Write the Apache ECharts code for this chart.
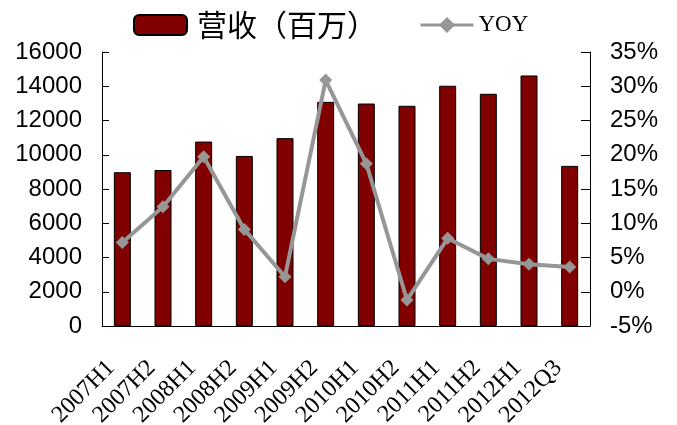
<!DOCTYPE html>
<html>
<head>
<meta charset="utf-8">
<script src="https://cdn.jsdelivr.net/npm/echarts@6/dist/echarts.min.js"></script>
<style>
  html, body { margin: 0; padding: 0; background: #ffffff; }
  #chart { width: 677px; height: 425px; }
</style>
</head>
<body>
<div id="chart"></div>
<script>
// Half-year periods (last one is a Q3 figure)
const periods = ['2007H1', '2007H2', '2008H1', '2008H2', '2009H1', '2009H2',
                 '2010H1', '2010H2', '2011H1', '2011H2', '2012H1', '2012Q3'];
// Revenue, millions
const revenue = [8980, 9110, 10770, 9930, 10970, 13090, 12990, 12860, 14030, 13560, 14630, 9350];
// Year-over-year growth, percent
const yoy = [7.2, 12.4, 19.7, 9.1, 2.2, 30.9, 18.7, -1.2, 7.8, 4.8, 4.0, 3.6];

const seriesNames = ['营收（百万）', 'YOY'];
const revenueRange = [0, 16000, 2000];
const yoyRange = [-5, 35, 5];

const chart = echarts.init(document.getElementById('chart'));

const axisText = { color: '#000', fontFamily: 'Liberation Sans, Arial, sans-serif', fontSize: 24 };

chart.setOption({
  animation: false,
  backgroundColor: '#ffffff',
  grid: { left: 102, right: 87, top: 52, bottom: 99, outerBoundsMode: 'none', containLabel: false },
  legend: {
    left: 128,
    top: 5,
    itemWidth: 53,
    itemHeight: 20,
    itemGap: 42,
    data: [
      { name: seriesNames[0] },
      { name: seriesNames[1], lineStyle: { width: 3 } }
    ],
    formatter: function (name) {
      return name === 'YOY' ? '{en|' + name + '}' : '{cn|' + name + '}';
    },
    textStyle: {
      color: '#000',
      rich: {
        cn: { fontFamily: 'Noto Sans CJK SC', fontSize: 30, color: '#000', padding: [0, 0, 0, 5] },
        en: { fontFamily: 'Liberation Serif, serif', fontSize: 23, color: '#000' }
      }
    }
  },
  xAxis: {
    type: 'category',
    data: periods,
    boundaryGap: true,
    axisLine: { lineStyle: { color: '#000', width: 1 } },
    axisTick: { inside: true, length: 8, alignWithLabel: false, lineStyle: { color: '#000' } },
    axisLabel: {
      interval: 0,
      rotate: 45,
      margin: 27,
      padding: [0, 16, 0, 0],
      color: '#000',
      fontFamily: 'Liberation Serif, Times New Roman, serif',
      fontSize: 24
    },
    splitLine: { show: false }
  },
  yAxis: [
    {
      type: 'value',
      min: revenueRange[0],
      max: revenueRange[1],
      interval: revenueRange[2],
      axisLine: { show: true, lineStyle: { color: '#000', width: 1 } },
      axisTick: { show: true, inside: true, length: 7, lineStyle: { color: '#000' } },
      axisLabel: Object.assign({ margin: 20, formatter: function (v) { return String(v); } }, axisText),
      splitLine: { show: false }
    },
    {
      type: 'value',
      position: 'right',
      min: yoyRange[0],
      max: yoyRange[1],
      interval: yoyRange[2],
      axisLine: { show: true, lineStyle: { color: '#000', width: 1 } },
      axisTick: { show: true, inside: true, length: 9, lineStyle: { color: '#000' } },
      axisLabel: Object.assign({ margin: 20, formatter: '{value}%' }, axisText),
      splitLine: { show: false }
    }
  ],
  series: [
    {
      name: seriesNames[0],
      type: 'bar',
      data: revenue,
      barWidth: 17,
      itemStyle: { color: '#800000', borderColor: '#000', borderWidth: 1 },
      z: 2
    },
    {
      name: seriesNames[1],
      type: 'line',
      yAxisIndex: 1,
      data: yoy,
      symbol: 'diamond',
      symbolSize: 13,
      lineStyle: { color: '#969696', width: 4 },
      itemStyle: { color: '#969696' },
      z: 5
    }
  ]
});
</script>
</body>
</html>
